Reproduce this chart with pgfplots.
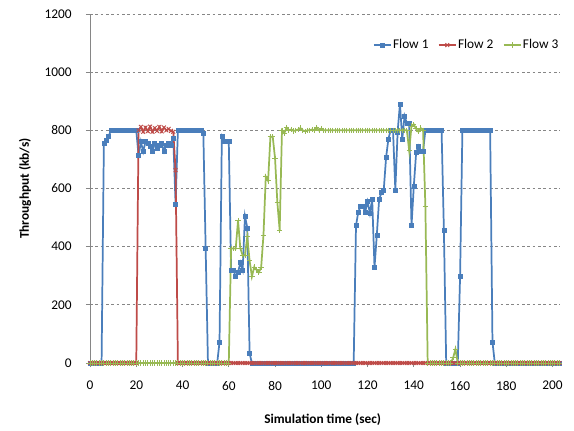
\documentclass[border=0pt]{standalone}
\usepackage{fontspec}
\setmainfont{Carlito}
\usepackage{pgfplots}
\usepackage{pgfplotstable}
\pgfplotsset{compat=1.18}
\definecolor{fa}{HTML}{4A7EBB}
\definecolor{fb}{HTML}{BE4B48}
\definecolor{fc}{HTML}{98B954}
\definecolor{axgray}{HTML}{868686}
\pgfplotstableread{
t f1 f2 f3
0 0 0 0
1 0 0 0
2 0 0 0
3 0 0 0
4 0 0 0
5 0 0 0
6 755 0 0
7 767 0 0
8 778 0 0
9 800 0 0
10 800 0 0
11 800 0 0
12 800 0 0
13 800 0 0
14 800 0 0
15 800 0 0
16 800 0 0
17 800 0 0
18 800 0 0
19 800 0 0
20 800 0 0
21 713 800 0
22 761 812 0
23 727 795 0
24 761 810 0
25 755 797 0
26 744 813 0
27 727 795 0
28 755 808 0
29 738 798 0
30 750 812 0
31 755 796 0
32 727 810 0
33 750 800 0
34 755 805 0
35 750 798 0
36 773 795 0
37 546 663 0
38 800 0 0
39 800 0 0
40 800 0 0
41 800 0 0
42 800 0 0
43 800 0 0
44 800 0 0
45 800 0 0
46 800 0 0
47 800 0 0
48 800 0 0
49 790 0 0
50 394 0 0
51 0 0 0
52 0 0 0
53 0 0 0
54 0 0 0
55 0 0 0
56 73 0 0
57 778 0 0
58 761 0 0
59 761 0 0
60 761 0 0
61 320 0 394
62 320 0 394
63 297 0 394
64 312 0 490
65 345 0 394
66 320 0 370
67 505 0 370
68 465 0 434
69 33 0 352
70 0 0 297
71 0 0 330
72 0 0 320
73 0 0 312
74 0 0 329
75 0 0 440
76 0 0 641
77 0 0 626
78 0 0 778
79 0 0 778
80 0 0 704
81 0 0 552
82 0 0 457
83 0 0 800
84 0 0 790
85 0 0 810
86 0 0 800
87 0 0 803
88 0 0 798
89 0 0 800
90 0 0 803
91 0 0 808
92 0 0 800
93 0 0 797
94 0 0 800
95 0 0 800
96 0 0 803
97 0 0 800
98 0 0 810
99 0 0 800
100 0 0 806
101 0 0 800
102 0 0 800
103 0 0 800
104 0 0 800
105 0 0 800
106 0 0 800
107 0 0 800
108 0 0 800
109 0 0 800
110 0 0 800
111 0 0 800
112 0 0 800
113 0 0 800
114 0 0 800
115 472 0 800
116 520 0 800
117 538 0 800
118 538 0 800
119 520 0 800
120 555 0 800
121 515 0 800
122 563 0 800
123 329 0 800
124 440 0 800
125 563 0 800
126 586 0 800
127 595 0 800
128 706 0 800
129 770 0 800
130 801 0 800
131 801 0 800
132 595 0 800
133 795 0 800
134 891 0 800
135 770 0 800
136 849 0 800
137 824 0 800
138 824 0 730
139 472 0 815
140 609 0 820
141 723 0 805
142 746 0 795
143 729 0 808
144 729 0 800
145 800 0 538
146 800 0 0
147 800 0 0
148 800 0 0
149 800 0 0
150 800 0 0
151 800 0 0
152 800 0 0
153 457 0 0
154 0 0 0
155 0 0 0
156 0 0 0
157 0 0 18
158 0 0 48
159 0 0 0
160 297 0 0
161 800 0 0
162 800 0 0
163 800 0 0
164 800 0 0
165 800 0 0
166 800 0 0
167 800 0 0
168 800 0 0
169 800 0 0
170 800 0 0
171 800 0 0
172 800 0 0
173 800 0 0
174 73 0 0
175 0 0 0
176 0 0 0
177 0 0 0
178 0 0 0
179 0 0 0
180 0 0 0
181 0 0 0
182 0 0 0
183 0 0 0
184 0 0 0
185 0 0 0
186 0 0 0
187 0 0 0
188 0 0 0
189 0 0 0
190 0 0 0
191 0 0 0
192 0 0 0
193 0 0 0
194 0 0 0
195 0 0 0
196 0 0 0
197 0 0 0
198 0 0 0
199 0 0 0
200 0 0 0
201 0 0 0
202 0 0 0
203 0 0 0
}\data
\begin{document}
\begin{tikzpicture}
\useasboundingbox (0,0) rectangle (430.5pt,322.5pt);
\begin{axis}[
  at={(67.5pt,50.25pt)}, anchor=south west,
  scale only axis, width=352.5pt, height=261.75pt,
  xmin=0, xmax=203.2, ymin=0, ymax=1200,
  xtick={0,20,...,200}, ytick={0,200,...,1200},
  axis x line*=bottom, axis y line*=left,
  axis line style={axgray, line width=0.75pt},
  tick style={axgray, line width=0.75pt},
  major tick length=3pt, tick align=outside,
  ymajorgrids, grid style={axgray, dash pattern=on 2pt off 2pt, line width=0.6pt},
  /pgf/number format/assume math mode=true,
  /pgf/number format/1000 sep={},
  tick label style={font=\fontsize{10}{12}\selectfont, text=black},
  yticklabel style={anchor=east, inner sep=0pt, xshift=-10.5pt},
  xticklabel style={anchor=north, inner sep=0pt, yshift=-10.5pt},
  xlabel={Simulation time (sec)},
  ylabel={Throughput (kb/s)},
  xlabel style={at={(axis description cs:0.495,-0.1633)}, anchor=center, font=\fontsize{10}{12}\selectfont\bfseries},
  ylabel style={at={(axis description cs:-0.1383,0.5)}, anchor=center, font=\fontsize{10}{12}\selectfont\bfseries},
  clip=false,
  legend style={at={(axis description cs:0.602,0.911)}, anchor=west, draw=none, fill=none,
    legend columns=3, font=\fontsize{10}{12}\selectfont, inner sep=0pt, outer sep=0pt,
    nodes={inner sep=1pt},
    /tikz/every even column/.append style={column sep=6pt}},
  legend image code/.code={\draw[mark repeat=2, mark phase=2, #1] plot coordinates {(0pt,0pt) (6.4pt,0pt) (12.8pt,0pt)};},
]
\addplot[fa, line width=1.3pt, mark=square*, mark size=1.5pt, mark options={solid, line width=0.4pt}] table[x=t,y=f1]{\data};
\addlegendentry{Flow 1}
\addplot[fb, line width=1.3pt, mark=x, mark size=2pt, mark options={solid, line width=0.7pt}] table[x=t,y=f2]{\data};
\addlegendentry{Flow 2}
\addplot[fc, line width=1.3pt, mark=+, mark size=2pt, mark options={solid, line width=0.7pt}] table[x=t,y=f3]{\data};
\addlegendentry{Flow 3}
\end{axis}
\end{tikzpicture}
\end{document}
